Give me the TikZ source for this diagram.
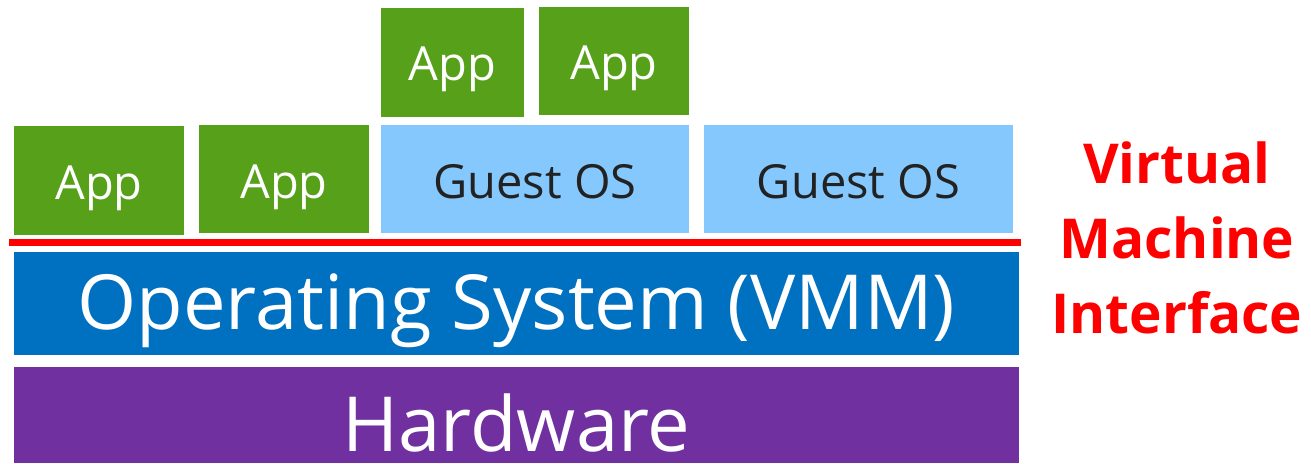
\documentclass[tikz,border=0pt]{standalone}
\usepackage{fontspec}
\setmainfont{Open Sans}
\definecolor{appgreen}{RGB}{87,160,26}
\definecolor{guestblue}{RGB}{132,200,253}
\definecolor{osblue}{RGB}{0,112,192}
\definecolor{hwpurple}{RGB}{112,48,160}
\definecolor{vmired}{RGB}{255,0,0}
\definecolor{guesttext}{RGB}{34,34,34}
% lower the ink of a label while keeping its measured size
\newcommand{\lowered}[2]{\raisebox{-#1}[\height][\depth]{#2}}
\tikzset{
  layer/.style={anchor=north west, inner sep=0pt, outer sep=0pt, draw=none},
  appbox/.style={layer, fill=appgreen, text=white, font=\fontsize{47}{54}\selectfont},
  guestbox/.style={layer, fill=guestblue, text=guesttext, font=\fontsize{47}{54}\selectfont},
  bigbox/.style={layer, text=white, font=\fontsize{76}{90}\selectfont},
  vmiline/.style={draw=vmired, line width=7pt},
}
\begin{document}
\begin{tikzpicture}[x=1pt, y=-1pt]
\useasboundingbox (0,0) rectangle (1311,463);
% upper applications running on the first guest OS
\node[appbox, minimum width=143pt, minimum height=109pt] (app3) at (381,8) {\lowered{7pt}{App}};
\node[appbox, minimum width=150pt, minimum height=108pt] (app4) at (539,7) {\lowered{7pt}{App}};
% native applications and guest operating systems
\node[appbox, minimum width=170pt, minimum height=109pt] (app1) at (14,126) {\lowered{8pt}{App}};
\node[appbox, minimum width=170pt, minimum height=108pt] (app2) at (199,125) {\lowered{8pt}{App}};
\node[guestbox, minimum width=308pt, minimum height=108pt] (guest1) at (381,125) {\lowered{3pt}{Guest OS}};
\node[guestbox, minimum width=309pt, minimum height=108pt] (guest2) at (704,125) {\lowered{3pt}{Guest OS}};
% host layers
\node[bigbox, fill=osblue, minimum width=1005pt, minimum height=103pt] (os) at (14,252) {\lowered{7pt}{Operating System (VMM)}};
\node[bigbox, fill=hwpurple, minimum width=1005pt, minimum height=96pt] (hw) at (14,367) {\lowered{8pt}{Hardware}};
% virtual machine interface
\coordinate (vmiL) at (9,242);
\coordinate (vmiR) at (1021,242);
\draw[vmiline] (vmiL) -- (vmiR);
\node[text=vmired, font=\bfseries\fontsize{55}{75}\selectfont, align=center, inner sep=0pt] (vmi) at (1177,238) {Virtual\\Machine\\Interface};
\end{tikzpicture}
\end{document}
